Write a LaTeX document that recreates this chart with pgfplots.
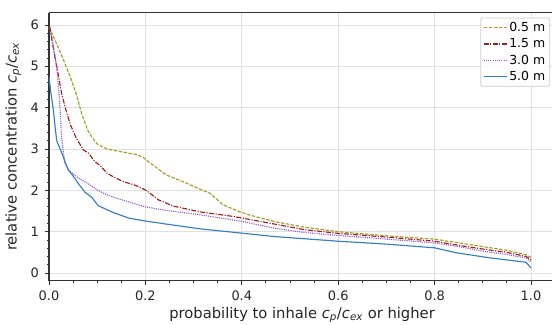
\documentclass[border=0pt]{standalone}
\usepackage{pgfplots}
\pgfplotsset{compat=1.18}
\usepackage{fontspec}
\setmainfont{DejaVu Sans}
\definecolor{cOl}{HTML}{A0A028}
\definecolor{cRd}{HTML}{A02020}
\definecolor{cPu}{HTML}{9458C8}
\definecolor{cBl}{HTML}{3580C4}
\definecolor{spine}{HTML}{333333}
\definecolor{gridc}{HTML}{E0E0E0}
\begin{document}
\begin{tikzpicture}
\begin{axis}[
  scale only axis,
  width=506.1bp, height=268.3bp,
  xmin=0, xmax=1.05, ymin=-0.19, ymax=6.3,
  axis lines*=left,
  axis line style={spine, line width=1.1bp, -},
  xtick={0,0.2,0.4,0.6,0.8,1.0},
  ytick={0,1,2,3,4,5,6},
  xticklabels={0.0,0.2,0.4,0.6,0.8,1.0},
  minor x tick num=3, minor y tick num=4,
  tick align=outside,
  major tick length=4bp, minor tick length=2.2bp,
  tick style={spine, line width=0.9bp},
  grid=major,
  major grid style={gridc, line width=0.7bp},
  /pgf/number format/assume math mode=true,
  ticklabel style={font=\fontsize{13}{15}\selectfont, text=black!85},
  xticklabel style={yshift=-2bp},
  yticklabel style={xshift=-2.5bp},
  xlabel={probability to inhale \textit{c}\textsubscript{\textit{p}}/\textit{c}\textsubscript{\textit{ex}} or higher},
  ylabel={relative concentration \textit{c}\textsubscript{\textit{p}}/\textit{c}\textsubscript{\textit{ex}}},
  label style={font=\fontsize{14.8}{17}\selectfont, text=black!85},
  xlabel style={yshift=0bp},
  ylabel style={yshift=3bp},
  legend style={at={(rel axis cs:1,1)}, anchor=north east, xshift=-5bp, yshift=-5bp,
    font=\fontsize{12.5}{14.5}\selectfont, draw=black!20, line width=0.8bp, rounded corners=1.5bp,
    inner sep=2.5bp, row sep=1.5bp, fill=white, fill opacity=0.9, text opacity=1},
  legend cell align=left,
  legend image post style={xscale=1.35},
  every axis plot/.append style={line width=1.15bp},
]
\addplot[cOl, dash pattern=on 3.5bp off 1.5bp] coordinates {
(0,5.95)(0.01,5.7)(0.025,5.3)(0.044,4.75)(0.057,4.31)(0.068,3.85)(0.08,3.46)(0.09,3.27)(0.1,3.12)(0.12,3.0)(0.147,2.94)(0.18,2.87)(0.195,2.80)(0.21,2.66)(0.244,2.37)(0.278,2.21)(0.313,2.03)(0.334,1.93)(0.361,1.65)(0.396,1.48)(0.417,1.40)(0.47,1.24)(0.53,1.11)(0.6,1.0)(0.7,0.90)(0.8,0.82)(0.85,0.73)(0.9,0.64)(0.95,0.55)(0.99,0.44)(1.0,0.38)
};
\addlegendentry{0.5 m}
\addplot[cRd, dash pattern=on 5bp off 1.5bp on 1.1bp off 1.5bp] coordinates {
(0.002,5.95)(0.005,5.7)(0.012,5.24)(0.02,4.75)(0.026,4.35)(0.035,3.95)(0.044,3.6)(0.055,3.3)(0.071,2.98)(0.082,2.9)(0.095,2.7)(0.106,2.6)(0.12,2.42)(0.133,2.33)(0.154,2.21)(0.175,2.14)(0.19,2.07)(0.203,1.99)(0.227,1.77)(0.258,1.62)(0.313,1.48)(0.382,1.37)(0.47,1.18)(0.53,1.05)(0.6,0.96)(0.7,0.87)(0.8,0.77)(0.85,0.67)(0.9,0.58)(0.95,0.5)(0.99,0.40)(1.0,0.32)
};
\addlegendentry{1.5 m}
\addplot[cPu, dash pattern=on 1.1bp off 1.1bp] coordinates {
(0.002,5.85)(0.006,5.72)(0.011,5.35)(0.016,5.0)(0.02,4.45)(0.023,3.95)(0.026,3.3)(0.03,2.9)(0.033,2.66)(0.04,2.49)(0.05,2.4)(0.061,2.3)(0.08,2.17)(0.099,2.02)(0.115,1.92)(0.133,1.84)(0.165,1.72)(0.2,1.6)(0.24,1.52)(0.313,1.41)(0.4,1.25)(0.47,1.08)(0.53,0.98)(0.6,0.91)(0.7,0.82)(0.8,0.73)(0.85,0.64)(0.9,0.53)(0.95,0.45)(0.99,0.36)(1.0,0.27)
};
\addlegendentry{3.0 m}
\addplot[cBl] coordinates {
(0,4.75)(0.004,4.35)(0.009,3.95)(0.013,3.5)(0.016,3.2)(0.026,2.92)(0.033,2.7)(0.04,2.5)(0.048,2.38)(0.054,2.28)(0.065,2.1)(0.075,1.95)(0.089,1.83)(0.102,1.63)(0.13,1.48)(0.165,1.33)(0.199,1.26)(0.24,1.19)(0.313,1.07)(0.396,0.97)(0.47,0.88)(0.6,0.77)(0.7,0.70)(0.8,0.61)(0.845,0.49)(0.913,0.37)(0.99,0.26)(1.0,0.12)
};
\addlegendentry{5.0 m}
\draw[spine, line width=1.1bp] (rel axis cs:0,1) -- (rel axis cs:1,1);
\end{axis}
\pgfresetboundingbox
\path (-49bp,-44.1bp) rectangle (503bp,280.9bp);
\end{tikzpicture}
\end{document}
